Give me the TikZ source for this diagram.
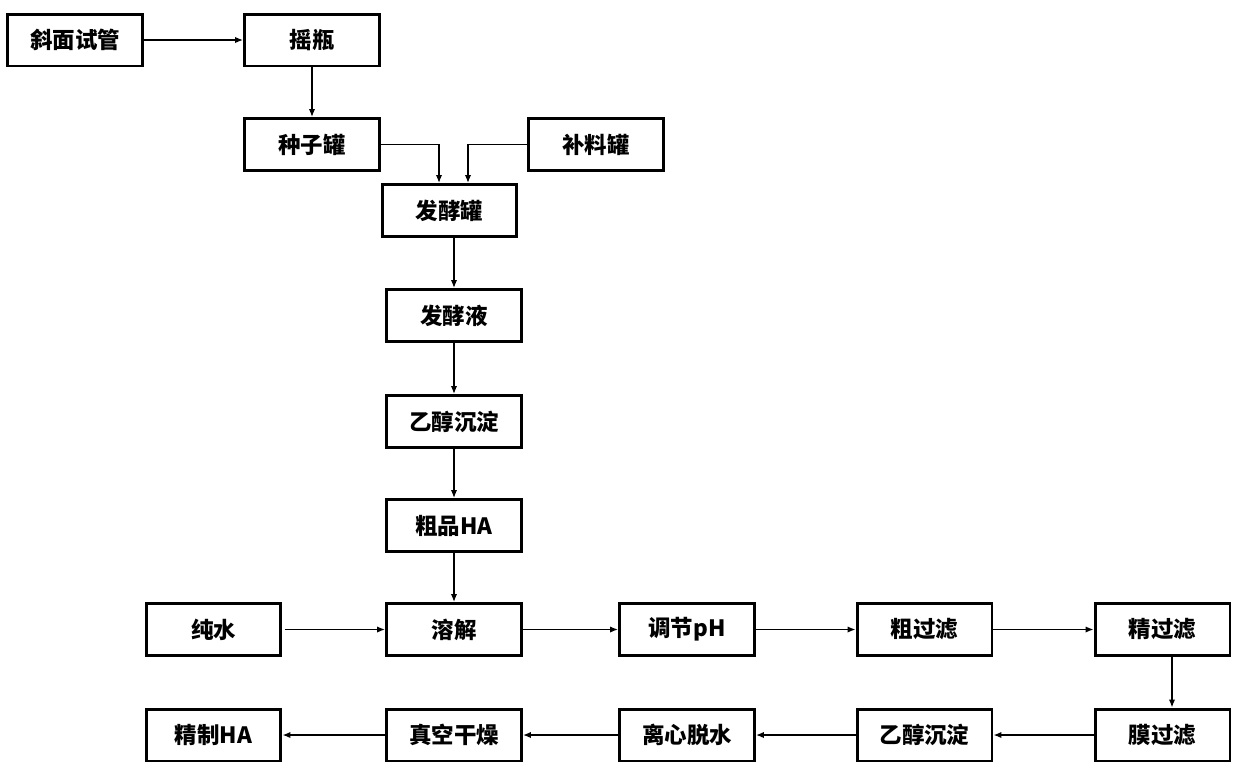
\documentclass[tikz,border=0pt]{standalone}
\usepackage{fontspec}
\setmainfont{Noto Sans CJK SC}
\usepackage{tikz}
\usetikzlibrary{arrows.meta,positioning}

\begin{document}
\begin{tikzpicture}[x=0.02cm,y=-0.02cm,
    box/.style={draw, line width=1.7pt, minimum width=2.7cm, minimum height=1.04cm,
        inner sep=0pt, font=\fontsize{12.8}{15}\selectfont\bfseries},
    flow/.style={line width=0.8pt, -{Latex[length=4.5pt,width=3.6pt]}}]
    \useasboundingbox (0,0) rectangle (1245,775);

    % Anzucht
    \node at (75,40) [box] (xmsg) {斜面试管};
    \node at (312,40) [box] (yp) {摇瓶};
    \node at (312,144.5) [box] (zzg) {种子罐};
    \node at (596,144.5) [box] (blg) {补料罐};
    \node at (449.5,210.5) [box] (fjg) {发酵罐};

    % Fermentation und Faellung
    \node at (454,315.5) [box] (fjy) {发酵液};
    \node at (454,421.5) [box] (ycd) {乙醇沉淀};
    \node at (454,525.5) [box] (cpha) {粗品HA};

    % Reinigung
    \node at (213.5,629.5) [box] (cs) {纯水};
    \node at (454,629.5) [box] (rj) {溶解};
    \node at (687,629.5) [box] (tj) {调节pH};
    \node at (924.5,629.5) [box] (cgl) {粗过滤};
    \node at (1162.5,629.5) [box] (jgl) {精过滤};

    \node at (1162.5,735) [box] (mgl) {膜过滤};
    \node at (924.5,735) [box] (ycd2) {乙醇沉淀};
    \node at (687,735) [box] (lx) {离心脱水};
    \node at (454,735) [box] (zk) {真空干燥};
    \node at (213.5,735) [box] (jzha) {精制HA};

    \draw[flow] (xmsg) -- (yp);
    \draw[flow] (yp) -- (zzg);
    \draw[flow] (zzg.east) -| ([xshift=-0.21cm]fjg.north);
    \draw[flow] (blg.west) -| ([xshift=0.37cm]fjg.north);
    \draw[flow] (fjg.south -| fjy.north) -- (fjy.north);
    \draw[flow] (fjy) -- (ycd);
    \draw[flow] (ycd) -- (cpha);
    \draw[flow] (cpha) -- (rj);

    \draw[flow] ([xshift=0.06cm]cs.east) -- (rj);
    \draw[flow] (rj) -- (tj);
    \draw[flow] (tj) -- (cgl);
    \draw[flow] (cgl) -- (jgl);
    \draw[flow] ([xshift=0.19cm]jgl.south) -- ([xshift=0.19cm]mgl.north);
    \draw[flow] (mgl) -- (ycd2);
    \draw[flow] (ycd2) -- (lx);
    \draw[flow] (lx) -- (zk);
    \draw[flow] (zk) -- (jzha);
\end{tikzpicture}
\end{document}
